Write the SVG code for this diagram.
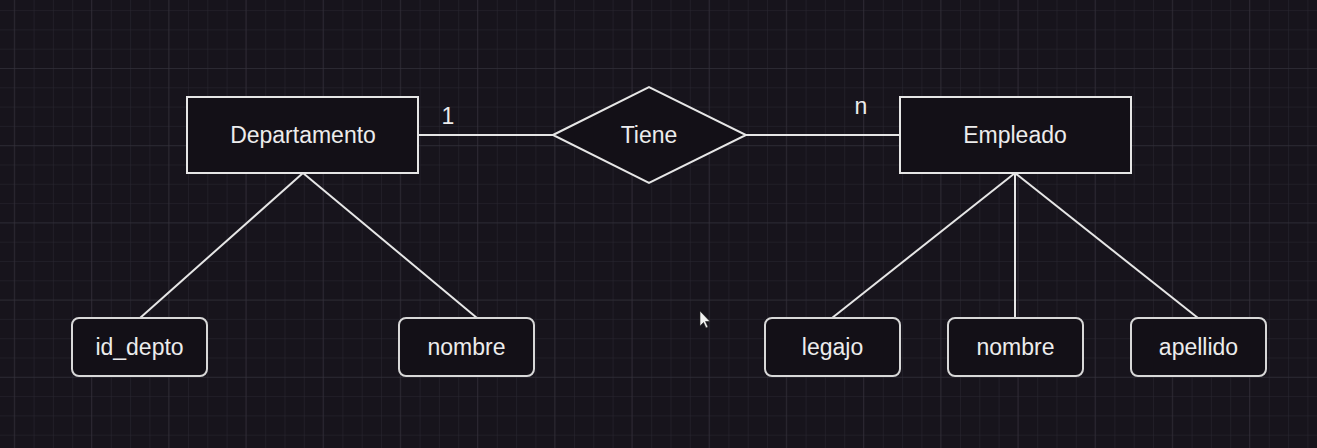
<svg xmlns="http://www.w3.org/2000/svg" width="1317" height="448" viewBox="0 0 1317 448">
<defs>
<pattern id="minor" x="14.3" y="10.1" width="19.3" height="19.3" patternUnits="userSpaceOnUse">
<path d="M0 0H19.3M0 0V19.3" fill="none" stroke="#2a2731" stroke-width="1"/>
</pattern>
<pattern id="major" x="13.8" y="-9.2" width="77.2" height="77.2" patternUnits="userSpaceOnUse">
<path d="M0 0H77.2M0 0V77.2" fill="none" stroke="#36333d" stroke-width="1"/>
</pattern>
<style>
.ent{fill:#131017;stroke:#e6e6e6;stroke-width:2}
.attr{fill:#131017;stroke:#d8d8d8;stroke-width:2}
.lbl{font-family:"Liberation Sans",Arial,sans-serif;font-size:23px;fill:#ececec;text-anchor:middle}
.edge{stroke:#e6e6e6;stroke-width:2;fill:none}
</style>
</defs>
<rect width="1317" height="448" fill="#17141c"/>
<rect width="1317" height="448" fill="url(#minor)"/>
<rect width="1317" height="448" fill="url(#major)"/>
<g id="connectors">
<line class="edge" x1="418" y1="135" x2="553" y2="135"/>
<line class="edge" x1="746" y1="135" x2="900" y2="135"/>
<line class="edge" x1="303" y1="173" x2="140" y2="318"/>
<line class="edge" x1="303" y1="173" x2="477" y2="318"/>
<line class="edge" x1="1015" y1="173" x2="832" y2="318"/>
<line class="edge" x1="1015" y1="173" x2="1015" y2="318"/>
<line class="edge" x1="1015" y1="173" x2="1198" y2="318"/>
<text class="lbl" x="448" y="124">1</text>
<text class="lbl" x="861" y="114">n</text>
</g>
<g id="departamento">
<rect class="ent" x="187" y="97" width="231" height="76"/>
<text class="lbl" x="303" y="143">Departamento</text>
</g>
<g id="tiene">
<polygon class="ent" points="553,135 649,87 746,135 649,183"/>
<text class="lbl" x="649" y="143">Tiene</text>
</g>
<g id="empleado">
<rect class="ent" x="900" y="97" width="231" height="76"/>
<text class="lbl" x="1015" y="143">Empleado</text>
</g>
<g id="id_depto">
<rect class="attr" x="72" y="318" width="135" height="58" rx="7"/>
<text class="lbl" x="139.5" y="355">id_depto</text>
</g>
<g id="nombre_depto">
<rect class="attr" x="399" y="318" width="135" height="58" rx="7"/>
<text class="lbl" x="466.5" y="355">nombre</text>
</g>
<g id="legajo">
<rect class="attr" x="765" y="318" width="135" height="58" rx="7"/>
<text class="lbl" x="832.5" y="355">legajo</text>
</g>
<g id="nombre_emp">
<rect class="attr" x="948" y="318" width="135" height="58" rx="7"/>
<text class="lbl" x="1015.5" y="355">nombre</text>
</g>
<g id="apellido">
<rect class="attr" x="1131" y="318" width="135" height="58" rx="7"/>
<text class="lbl" x="1198.5" y="355">apellido</text>
</g>
<polygon points="700,311 700,326 703.5,322.5 706,328 708,327 705.5,321.5 710,321.5" fill="#f2f2f2" stroke="#222" stroke-width="0.6"/>
</svg>
